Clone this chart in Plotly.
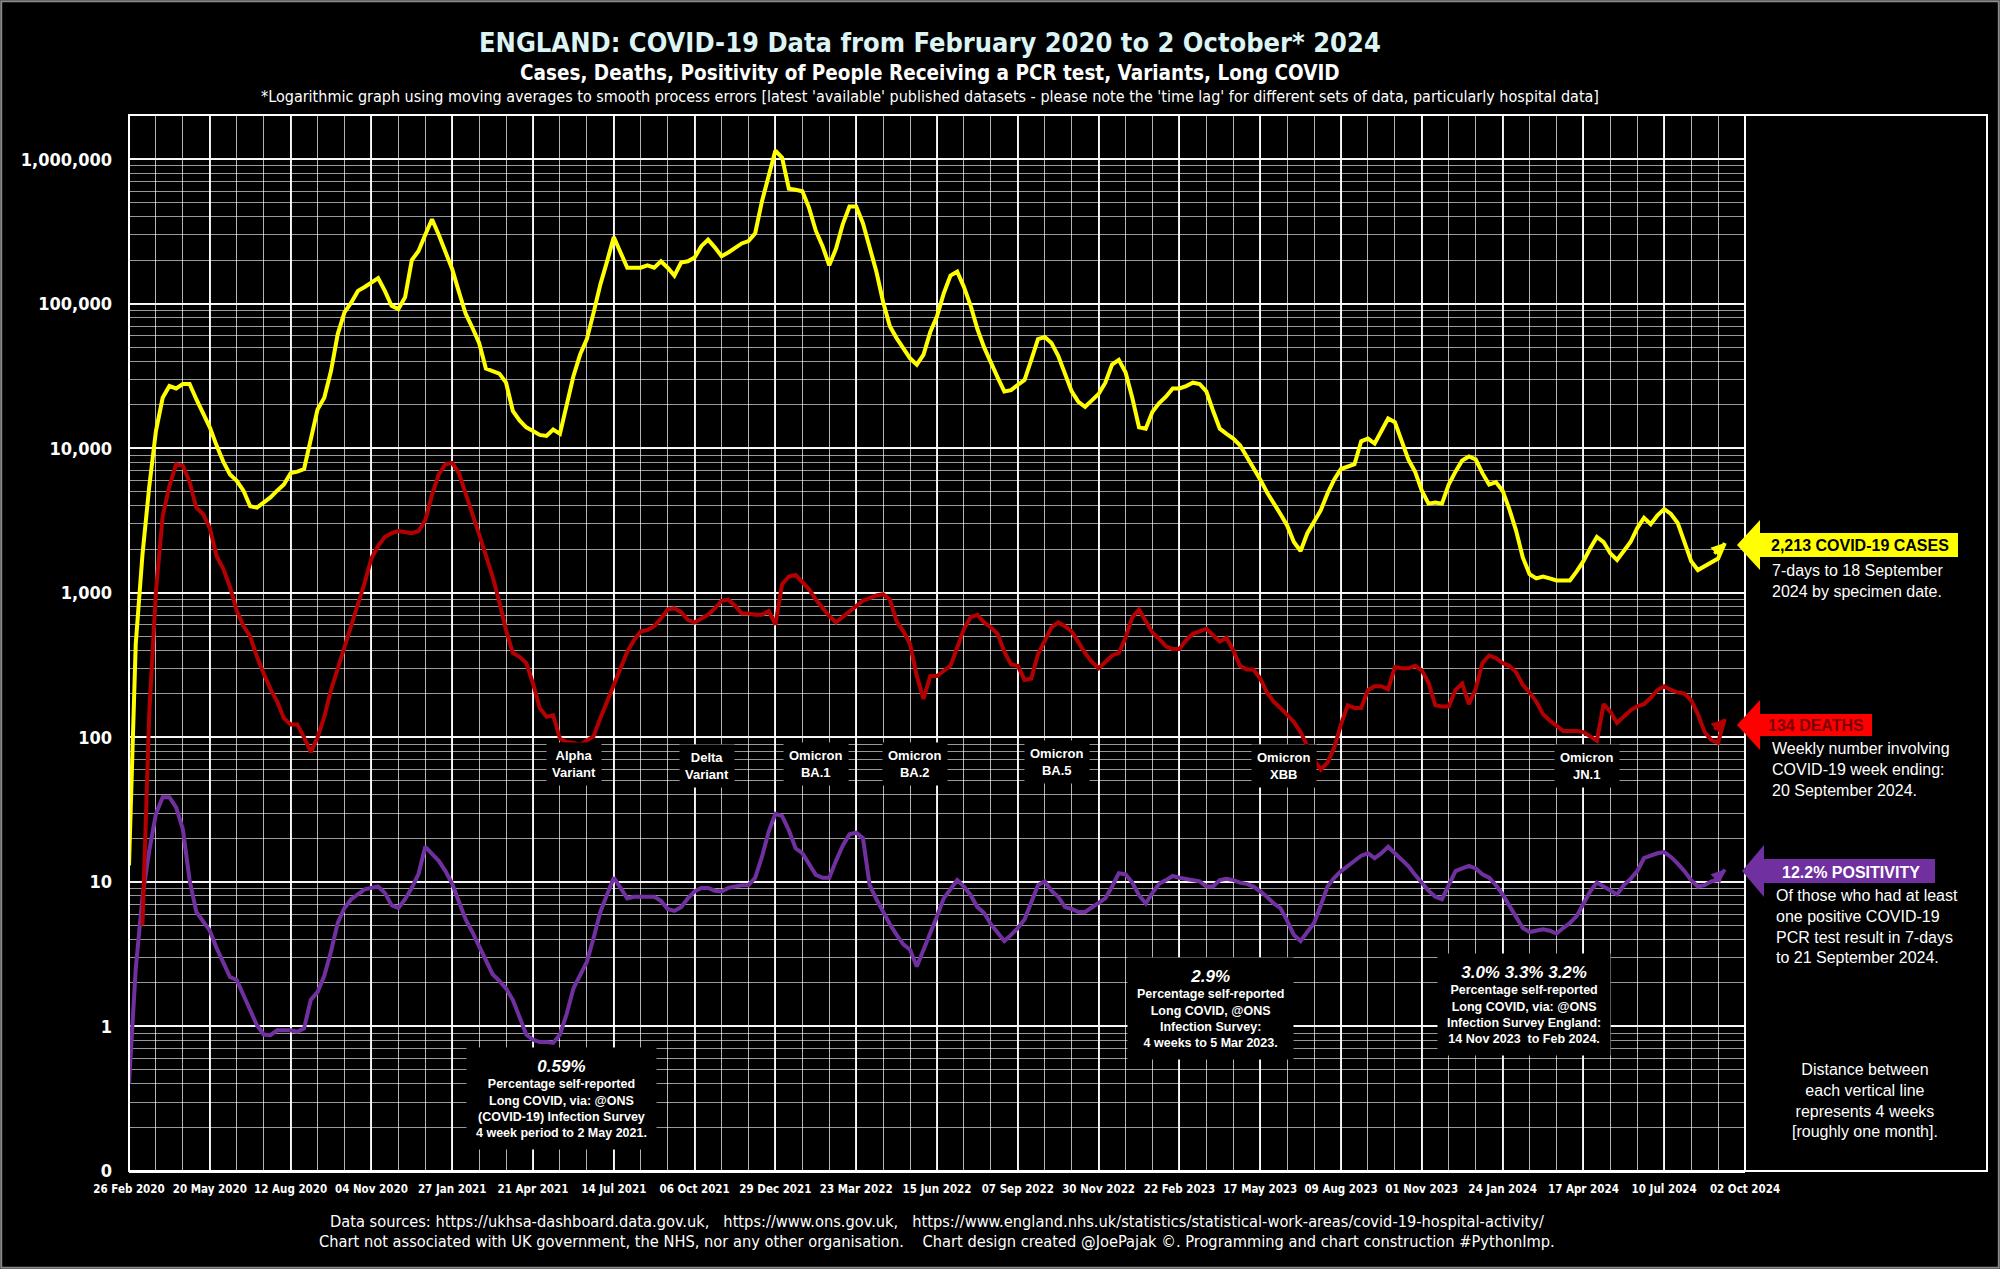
import plotly.graph_objects as go
import pandas as pd
import numpy as np

# ---------------- DATA (weekly, starting 26 Feb 2020) ----------------
START_DATE = "2020-02-26"

cases = [13, 443, 1840, 5400, 13200, 22400, 27000, 26000, 27900, 27900,
         21900, 17200, 14000, 10500, 8100, 6600, 5970, 5100, 3980, 3890,
         4230, 4580, 5100, 5620, 6740, 6900, 7200, 11500, 18600, 22400,
         34300, 61800, 87300, 102000, 123000, 131000, 142000, 151000, 123000, 97000,
         92000, 111000, 201000, 232000, 301000, 385000, 301000, 232000, 174000, 121000,
         85500, 68400, 53700, 35700, 34300, 32900, 28500, 18200, 15600, 14000,
         13200, 12400, 12200, 13500, 12600, 19800, 31600, 44600, 57000, 87000,
         136000, 197000, 290000, 227000, 178000, 178000, 178000, 185000, 178000, 197000,
         178000, 157000, 193000, 197000, 209000, 251000, 278000, 246000, 214000, 227000,
         246000, 262000, 272000, 308000, 512000, 768000, 1150000, 1026000, 627000, 616000,
         602000, 462000, 321000, 251000, 185000, 241000, 355000, 471000, 471000, 362000,
         251000, 167000, 103000, 70000, 58000, 50000, 42000, 38000, 44600, 64000,
         82000, 118000, 157000, 167000, 131000, 97000, 67000, 50000, 38700, 31000,
         24800, 25300, 27500, 29700, 41000, 57000, 59000, 53700, 43700, 33600,
         24800, 21000, 19400, 21500, 23800, 28500, 38000, 41000, 33600, 22400,
         14000, 13700, 17900, 20600, 22800, 26000, 26000, 27000, 28500, 27900,
         24800, 18200, 13700, 12600, 11700, 10500, 8790, 7470, 6100, 4970,
         4230, 3520, 2930, 2250, 1950, 2590, 3110, 3740, 4880, 6100,
         7200, 7470, 7770, 11200, 11700, 10800, 13200, 16100, 15200, 11200,
         8400, 6900, 5100, 4150, 4230, 4150, 5620, 6900, 8260, 8790,
         8400, 6740, 5620, 5850, 5100, 3800, 2700, 1760, 1350, 1260,
         1300, 1260, 1220, 1220, 1220, 1410, 1660, 2030, 2440, 2250,
         1880, 1690, 1950, 2250, 2810, 3310, 2990, 3440, 3800, 3520,
         3050, 2250, 1660, 1440, 1530, 1630, 1730, 2213]

deaths = [None, None, 5, 145, 1020, 3390, 5500, 7770, 7600, 5850,
          3890, 3520, 2810, 1800, 1470, 1100, 752, 589, 500, 361,
          277, 217, 177, 136, 123, 123, 100, 79, 100, 139,
          213, 301, 417, 589, 815, 1175, 1730, 2120, 2440, 2590,
          2680, 2630, 2590, 2680, 3180, 4770, 6610, 7770, 7940, 6740,
          4970, 3520, 2540, 1840, 1300, 865, 554, 384, 361, 327,
          236, 160, 139, 142, 98, 93, 92, 89, 95, 102,
          136, 181, 231, 301, 392, 471, 542, 554, 589, 665,
          766, 782, 736, 651, 625, 665, 706, 782, 883, 900,
          815, 721, 721, 706, 706, 750, 603, 1150, 1300, 1330,
          1200, 1060, 900, 782, 692, 625, 679, 736, 798, 883,
          920, 960, 980, 900, 638, 542, 443, 266, 185, 266,
          266, 291, 313, 417, 565, 679, 706, 625, 577, 521,
          392, 320, 313, 250, 256, 376, 471, 577, 625, 589,
          542, 452, 384, 333, 301, 333, 369, 384, 490, 679,
          766, 638, 530, 480, 427, 409, 409, 471, 521, 542,
          565, 510, 461, 490, 400, 313, 295, 295, 256, 205,
          177, 160, 142, 128, 109, 87, 70, 60, 67, 85,
          123, 167, 160, 160, 213, 226, 226, 215, 307, 301,
          301, 313, 291, 240, 167, 164, 164, 213, 236, 170,
          217, 327, 369, 354, 327, 313, 283, 231, 205, 177,
          145, 131, 121, 111, 111, 111, 109, 102, 95, 170,
          151, 126, 139, 154, 164, 170, 188, 213, 226, 213,
          205, 201, 181, 145, 109, 96, 92, 134]

positivity = [0.40, 2.5, 7.9, 16.4, 29.6, 38.6, 38.6, 32.8, 23.2, 10.3,
              6.2, 5.3, 4.6, 3.5, 2.75, 2.2, 2.1, 1.66, 1.27, 1.02,
              0.88, 0.87, 0.94, 0.94, 0.94, 0.92, 0.97, 1.53, 1.73, 2.24,
              3.3, 5.2, 6.6, 7.6, 8.2, 8.9, 9.1, 9.3, 8.4, 6.9,
              6.6, 7.6, 9.1, 11.4, 17.5, 15.5, 14.0, 11.9, 9.7, 7.3,
              5.5, 4.5, 3.6, 2.9, 2.3, 2.07, 1.83, 1.53, 1.17, 0.88,
              0.81, 0.78, 0.78, 0.77, 0.88, 1.22, 1.83, 2.3, 2.8, 4.1,
              6.2, 8.2, 10.7, 9.1, 7.7, 7.9, 7.9, 7.9, 7.9, 7.4,
              6.5, 6.3, 6.7, 7.7, 8.6, 9.1, 9.1, 8.7, 8.6, 9.1,
              9.3, 9.5, 9.5, 10.7, 14.9, 22.3, 29.6, 28.5, 22.8, 17.1,
              15.8, 13.4, 11.2, 10.7, 10.7, 14.0, 17.8, 21.4, 21.9, 20.1,
              9.5, 7.6, 6.2, 5.1, 4.3, 3.7, 3.4, 2.6, 3.4, 4.4,
              5.8, 7.7, 8.9, 10.3, 9.3, 8.1, 6.7, 6.1, 5.1, 4.5,
              3.9, 4.3, 4.8, 5.5, 7.3, 9.5, 10.1, 8.7, 7.9, 6.7,
              6.5, 6.2, 6.2, 6.7, 7.1, 7.7, 9.3, 11.5, 11.3, 9.9,
              8.1, 7.1, 8.4, 9.7, 10.3, 11.0, 10.7, 10.5, 10.3, 10.1,
              9.3, 9.3, 10.3, 10.5, 10.3, 9.9, 9.7, 9.3, 8.6, 7.9,
              7.1, 6.6, 5.4, 4.3, 3.9, 4.5, 5.2, 6.9, 9.3, 10.7,
              11.9, 12.9, 14.0, 15.2, 15.8, 14.6, 15.8, 17.5, 15.8, 14.4,
              12.9, 11.2, 9.9, 8.7, 7.9, 7.6, 9.5, 11.9, 12.4, 12.9,
              12.4, 11.3, 10.7, 9.5, 8.2, 6.9, 5.7, 4.8, 4.5, 4.6,
              4.7, 4.6, 4.4, 4.8, 5.2, 5.8, 7.1, 8.6, 9.9, 9.3,
              8.6, 8.2, 9.5, 10.5, 11.9, 14.6, 15.2, 15.8, 16.1, 14.9,
              13.4, 11.9, 10.3, 9.3, 9.5, 10.1, 10.3, 12.2]

tick_dates = ["2020-02-26", "2020-05-20", "2020-08-12", "2020-11-04", "2021-01-27",
              "2021-04-21", "2021-07-14", "2021-10-06", "2021-12-29", "2022-03-23",
              "2022-06-15", "2022-09-07", "2022-11-30", "2023-02-22", "2023-05-17",
              "2023-08-09", "2023-11-01", "2024-01-24", "2024-04-17", "2024-07-10",
              "2024-10-02"]
tick_labels = ["26 Feb 2020", "20 May 2020", "12 Aug 2020", "04 Nov 2020", "27 Jan 2021",
               "21 Apr 2021", "14 Jul 2021", "06 Oct 2021", "29 Dec 2021", "23 Mar 2022",
               "15 Jun 2022", "07 Sep 2022", "30 Nov 2022", "22 Feb 2023", "17 May 2023",
               "09 Aug 2023", "01 Nov 2023", "24 Jan 2024", "17 Apr 2024", "10 Jul 2024",
               "02 Oct 2024"]
y_tick_vals = [0.1, 1, 10, 100, 1000, 10000, 100000, 1000000]
y_tick_text = ["0", "1", "10", "100", "1,000", "10,000", "100,000", "1,000,000"]

# ---------------- STYLE ----------------
W, H = 2000, 1269
NARROW = "Liberation Sans Narrow, Arial Narrow, DejaVu Sans Condensed, sans-serif"
ARIAL = "Liberation Sans, Arial, Helvetica, sans-serif"
YELLOW = "#ffff00"
DRED = "#b40000"
PURPLE = "#7030a0"


def px(x):
    return x / W


def py(y):
    return 1 - y / H


def label(x, y, text, size, color="white", family=ARIAL, xanchor="center",
          yanchor="middle", align="center", **kw):
    return dict(x=px(x), y=py(y), xref="paper", yref="paper", showarrow=False,
                xanchor=xanchor, yanchor=yanchor, align=align, text=text,
                font=dict(family=family, size=size, color=color), **kw)


dates = pd.date_range(START_DATE, periods=len(cases), freq="7D")

fig = go.Figure()
fig.add_trace(go.Scatter(x=dates, y=positivity, mode="lines",
                         line=dict(color=PURPLE, width=4), name="Positivity"))
fig.add_trace(go.Scatter(x=dates, y=deaths, mode="lines",
                         line=dict(color=DRED, width=4), name="Deaths", connectgaps=False))
fig.add_trace(go.Scatter(x=dates, y=cases, mode="lines",
                         line=dict(color=YELLOW, width=4), name="Cases"))

shapes = []
annotations = []

# outer frame, plot frame and separator
shapes.append(dict(type="rect", xref="paper", yref="paper", x0=0.0006, x1=0.9994,
                   y0=0.001, y1=0.999, line=dict(color="#8a8a8a", width=2)))
shapes.append(dict(type="rect", xref="paper", yref="paper",
                   x0=px(129), x1=px(1987), y0=py(1171), y1=py(115),
                   line=dict(color="white", width=2), layer="above"))
shapes.append(dict(type="line", xref="paper", yref="paper",
                   x0=px(1745), x1=px(1745), y0=py(1171), y1=py(115),
                   line=dict(color="white", width=2), layer="above"))


def arrow_path(tip_x, tip_y, head_x, head_half, body_half, end_x):
    pts = [(tip_x, tip_y), (head_x, tip_y - head_half), (head_x, tip_y - body_half),
           (end_x, tip_y - body_half), (end_x, tip_y + body_half), (head_x, tip_y + body_half),
           (head_x, tip_y + head_half)]
    return "M " + " L ".join(f"{px(a):.5f},{py(b):.5f}" for a, b in pts) + " Z"


shapes.append(dict(type="path", xref="paper", yref="paper",
                   path=arrow_path(1737, 545, 1760, 25, 12, 1958),
                   fillcolor=YELLOW, line=dict(width=0)))
shapes.append(dict(type="path", xref="paper", yref="paper",
                   path=arrow_path(1737, 725, 1760, 25, 11, 1872),
                   fillcolor="#ff0000", line=dict(width=0)))
shapes.append(dict(type="path", xref="paper", yref="paper",
                   path=arrow_path(1742, 871, 1764, 26, 12, 1935),
                   fillcolor=PURPLE, line=dict(width=0)))

annotations += [
    label(1860, 545, "<b>2,213 COVID-19 CASES</b>", 16, color="black"),
    label(1816, 725, "<b>134 DEATHS</b>", 16, color="#7a0000"),
    label(1851, 872, "<b>12.2% POSITIVITY</b>", 16),
    label(1770, 560, "7-days to 18 September<br>2024 by specimen date.", 16,
          xanchor="left", yanchor="top", align="left"),
    label(1770, 738, "Weekly number involving<br>COVID-19 week ending:<br>20 September 2024.", 16,
          xanchor="left", yanchor="top", align="left"),
    label(1774, 885, "Of those who had at least<br>one positive COVID-19<br>PCR test result in 7-days<br>to 21 September 2024.", 16,
          xanchor="left", yanchor="top", align="left"),
    label(1865, 1100, "Distance between<br>each vertical line<br>represents 4 weeks<br>[roughly one month].", 16),
]

# small arrowheads at the end of each line
for series, color in [(cases, YELLOW), (deaths, DRED), (positivity, PURPLE)]:
    annotations.append(dict(x=dates[-1], y=np.log10(series[-1]), xref="x", yref="y",
                            showarrow=True, ax=-12, ay=12, arrowhead=2, arrowsize=0.9,
                            arrowwidth=3, arrowcolor=color, text=""))

# variant labels
variants = [("Alpha<br>Variant", 574, 764), ("Delta<br>Variant", 707, 766),
            ("Omicron<br>BA.1", 816, 764), ("Omicron<br>BA.2", 915, 764),
            ("Omicron<br>BA.5", 1057, 762), ("Omicron<br>XBB", 1284, 766),
            ("Omicron<br>JN.1", 1587, 766)]
for txt, x, y in variants:
    annotations.append(label(x, y, f"<b>{txt}</b>", 13, bgcolor="black", borderpad=5))

# long COVID boxes
long_covid = [
    ("0.59%", "Percentage self-reported<br>Long COVID, via: @ONS<br>(COVID-19) Infection Survey<br>4 week period to 2 May 2021.", 561, 1098),
    ("2.9%", "Percentage self-reported<br>Long COVID, @ONS<br>Infection Survey:<br>4 weeks to 5 Mar 2023.", 1210, 1008),
    ("3.0% 3.3% 3.2%", "Percentage self-reported<br>Long COVID, via: @ONS<br>Infection Survey England:<br>14 Nov 2023  to Feb 2024.", 1524, 1004),
]
for head, body, x, y in long_covid:
    annotations.append(label(x, y,
                             f"<b><i><span style='font-size:17px'>{head}</span></i></b><br><b>{body}</b>",
                             12.5, bgcolor="black", borderpad=9))

# titles and footer
annotations += [
    label(930, 42, "<b>ENGLAND: COVID-19 Data from February 2020 to 2 October* 2024</b>",
          27, color="#dcf4f4", family=NARROW),
    label(930, 73, "<b>Cases, Deaths, Positivity of People Receiving a PCR test, Variants, Long COVID</b>",
          20.5, family=NARROW),
    label(930, 96, "*Logarithmic graph using moving averages to smooth process errors [latest 'available' published datasets - please note the 'time lag' for different sets of data, particularly hospital data]",
          16, family=NARROW),
    label(937, 1221, "Data sources: https://ukhsa-dashboard.data.gov.uk,   https://www.ons.gov.uk,   https://www.england.nhs.uk/statistics/statistical-work-areas/covid-19-hospital-activity/",
          16.3, family=NARROW),
    label(937, 1241, "Chart not associated with UK government, the NHS, nor any other organisation.    Chart design created @JoePajak ©. Programming and chart construction #PythonImp.",
          16.3, family=NARROW),
]

fig.update_layout(
    width=W, height=H,
    margin=dict(l=0, r=0, t=0, b=0, autoexpand=False),
    paper_bgcolor="black", plot_bgcolor="black",
    showlegend=False,
    shapes=shapes, annotations=annotations,
    xaxis=dict(
        domain=[px(129), px(1745)],
        type="date",
        range=[tick_dates[0], tick_dates[-1]],
        tickmode="array", tickvals=tick_dates, ticktext=tick_labels,
        tickangle=0, automargin=False,
        tickfont=dict(family=NARROW, size=11.5, color="white", weight="bold"),
        showgrid=True, gridcolor="rgba(255,255,255,0.9)", gridwidth=1.5,
        minor=dict(tick0=tick_dates[0], dtick=28 * 86400000, showgrid=True,
                   gridcolor="rgba(255,255,255,0.7)", gridwidth=1),
        showline=True, linecolor="white", linewidth=2,
        zeroline=False, ticks="", ticklabelstandoff=6,
    ),
    yaxis=dict(
        domain=[py(1171), py(115)],
        type="log",
        range=[-1, 6.307],
        tickmode="array", tickvals=y_tick_vals, ticktext=y_tick_text,
        automargin=False,
        tickfont=dict(family=NARROW, size=18, color="white", weight="bold"),
        showgrid=True, gridcolor="rgba(255,255,255,0.95)", gridwidth=2,
        minor=dict(dtick="D1", showgrid=True, gridcolor="rgba(255,255,255,0.6)", gridwidth=1),
        showline=False, zeroline=False, ticks="", ticklabelstandoff=16,
    ),
)

fig.write_html("out.html",
               config={"displayModeBar": False},
               post_script="document.body.style.margin='0px';document.body.style.overflow='hidden';")
